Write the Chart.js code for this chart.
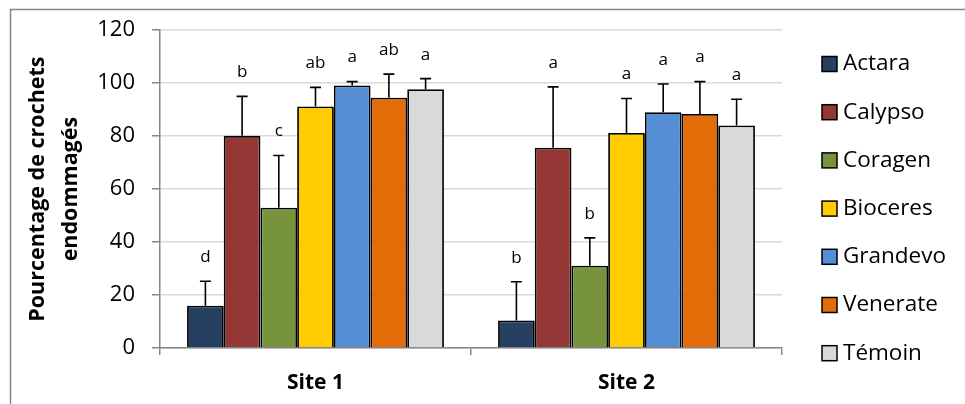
<!DOCTYPE html>
<html>
<head>
<meta charset="utf-8">
<script src="https://cdn.jsdelivr.net/npm/chart.js@4"></script>
<style>
  html, body { margin: 0; padding: 0; background: #fff; }
  #wrap { width: 965px; height: 404px; }
</style>
</head>
<body>
<div id="wrap"><canvas id="chart" width="965" height="404"></canvas></div>
<script>
    const sites = ['Site 1', 'Site 2'];
    const treatments = ['Actara', 'Calypso', 'Coragen', 'Bioceres', 'Grandevo', 'Venerate', 'Témoin'];
    const site1Means = [16.0, 80.1, 53.0, 91.2, 99.1, 94.5, 97.7];
    const site2Means = [10.4, 75.6, 31.1, 81.2, 89.0, 88.4, 84.0];
    const site1Err = [9.2, 14.9, 19.7, 7.2, 1.5, 8.9, 4.0];
    const site2Err = [14.6, 23.0, 10.5, 13.0, 10.7, 12.2, 9.9];
    const site1Letters = ['d', 'b', 'c', 'ab', 'a', 'ab', 'a'];
    const site2Letters = ['b', 'a', 'b', 'a', 'a', 'a', 'a'];
    const yTicks = [0, 20, 40, 60, 80, 100, 120];

    const colors = ['#254061', '#953735', '#77933c', '#ffcc00', '#558ed5', '#e36c09', '#d9d9d9'];
    const FONT = "'Open Sans', 'DejaVu Sans', sans-serif";
    const axisGray = '#868686';

    const datasets = treatments.map((name, i) => ({
        label: name,
        data: [site1Means[i], site2Means[i]],
        err: [site1Err[i], site2Err[i]],
        letters: [site1Letters[i], site2Letters[i]],
        backgroundColor: colors[i],
        borderColor: '#000',
        borderWidth: 1.8,
        barPercentage: 1,
        categoryPercentage: 0.826
    }));

    // upward error bars + significance letters
    const errorBars = {
        id: 'errorBars',
        afterDatasetsDraw(chart) {
            const ctx = chart.ctx;
            const y = chart.scales.y;
            ctx.save();
            chart.data.datasets.forEach((ds, di) => {
                const meta = chart.getDatasetMeta(di);
                meta.data.forEach((bar, j) => {
                    const top = y.getPixelForValue(ds.data[j] + ds.err[j]);
                    ctx.strokeStyle = '#000';
                    ctx.lineWidth = 1.6;
                    ctx.beginPath();
                    ctx.moveTo(bar.x, bar.y);
                    ctx.lineTo(bar.x, top);
                    ctx.moveTo(bar.x - 5.5, top);
                    ctx.lineTo(bar.x + 5.5, top);
                    ctx.stroke();

                    ctx.fillStyle = '#000';
                    ctx.font = '17px ' + FONT;
                    ctx.textAlign = 'center';
                    ctx.textBaseline = 'middle';
                    ctx.fillText(ds.letters[j], bar.x, top - 24);
                });
            });
            ctx.restore();
        }
    };

    // legend on the right + outer frame
    const sideLegend = {
        id: 'sideLegend',
        afterDraw(chart) {
            const ctx = chart.ctx;
            ctx.save();
            chart.data.datasets.forEach((ds, i) => {
                const cy = 64 + i * 48.2;
                ctx.fillStyle = ds.backgroundColor;
                ctx.fillRect(822, cy - 7.5, 15, 15);
                ctx.strokeStyle = '#000';
                ctx.lineWidth = 1.5;
                ctx.strokeRect(822, cy - 7.5, 15, 15);
                ctx.fillStyle = '#000';
                ctx.font = '22.5px ' + FONT;
                ctx.textAlign = 'left';
                ctx.textBaseline = 'middle';
                ctx.fillText(ds.label, 843, cy);
            });
            ctx.strokeStyle = axisGray;
            ctx.lineWidth = 1.5;
            ctx.beginPath();
            ctx.moveTo(10.5, 420);
            ctx.lineTo(10.5, 9.5);
            ctx.lineTo(980, 9.5);
            ctx.stroke();
            ctx.restore();
        }
    };

    new Chart(document.getElementById('chart'), {
        type: 'bar',
        data: { labels: sites, datasets: datasets },
        plugins: [errorBars, sideLegend],
        options: {
            responsive: false,
            animation: false,
            layout: { padding: { top: 28, right: 183, left: 0, bottom: 0 } },
            plugins: {
                legend: { display: false },
                tooltip: { enabled: false }
            },
            scales: {
                x: {
                    grid: {
                        offset: true,
                        drawOnChartArea: false,
                        drawTicks: true,
                        tickLength: 7,
                        color: axisGray,
                        lineWidth: 1.5
                    },
                    border: { display: true, color: axisGray, width: 1.5 },
                    ticks: {
                        color: '#000',
                        font: { family: FONT, size: 21, weight: 'bold' },
                        padding: 15
                    },
                    afterFit(scale) { scale.height = 56; }
                },
                y: {
                    min: 0,
                    max: 120,
                    afterBuildTicks(scale) { scale.ticks = yTicks.map(v => ({ value: v })); },
                    grid: {
                        color: '#d9d9d9',
                        lineWidth: 1.5,
                        tickColor: axisGray,
                        tickLength: 8,
                        tickWidth: 1.5
                    },
                    border: { display: true, color: axisGray, width: 1.5 },
                    ticks: {
                        color: '#000',
                        font: { family: FONT, size: 22 },
                        padding: 17
                    },
                    title: {
                        display: true,
                        text: ['Pourcentage de crochets', 'endommagés'],
                        color: '#000',
                        font: { family: FONT, size: 21.5, weight: 'bold', lineHeight: 1.535 },
                        padding: { top: 21.5, bottom: 0 }
                    },
                    afterFit(scale) { scale.width = 160; }
                }
            }
        }
    });
</script>
</body>
</html>
